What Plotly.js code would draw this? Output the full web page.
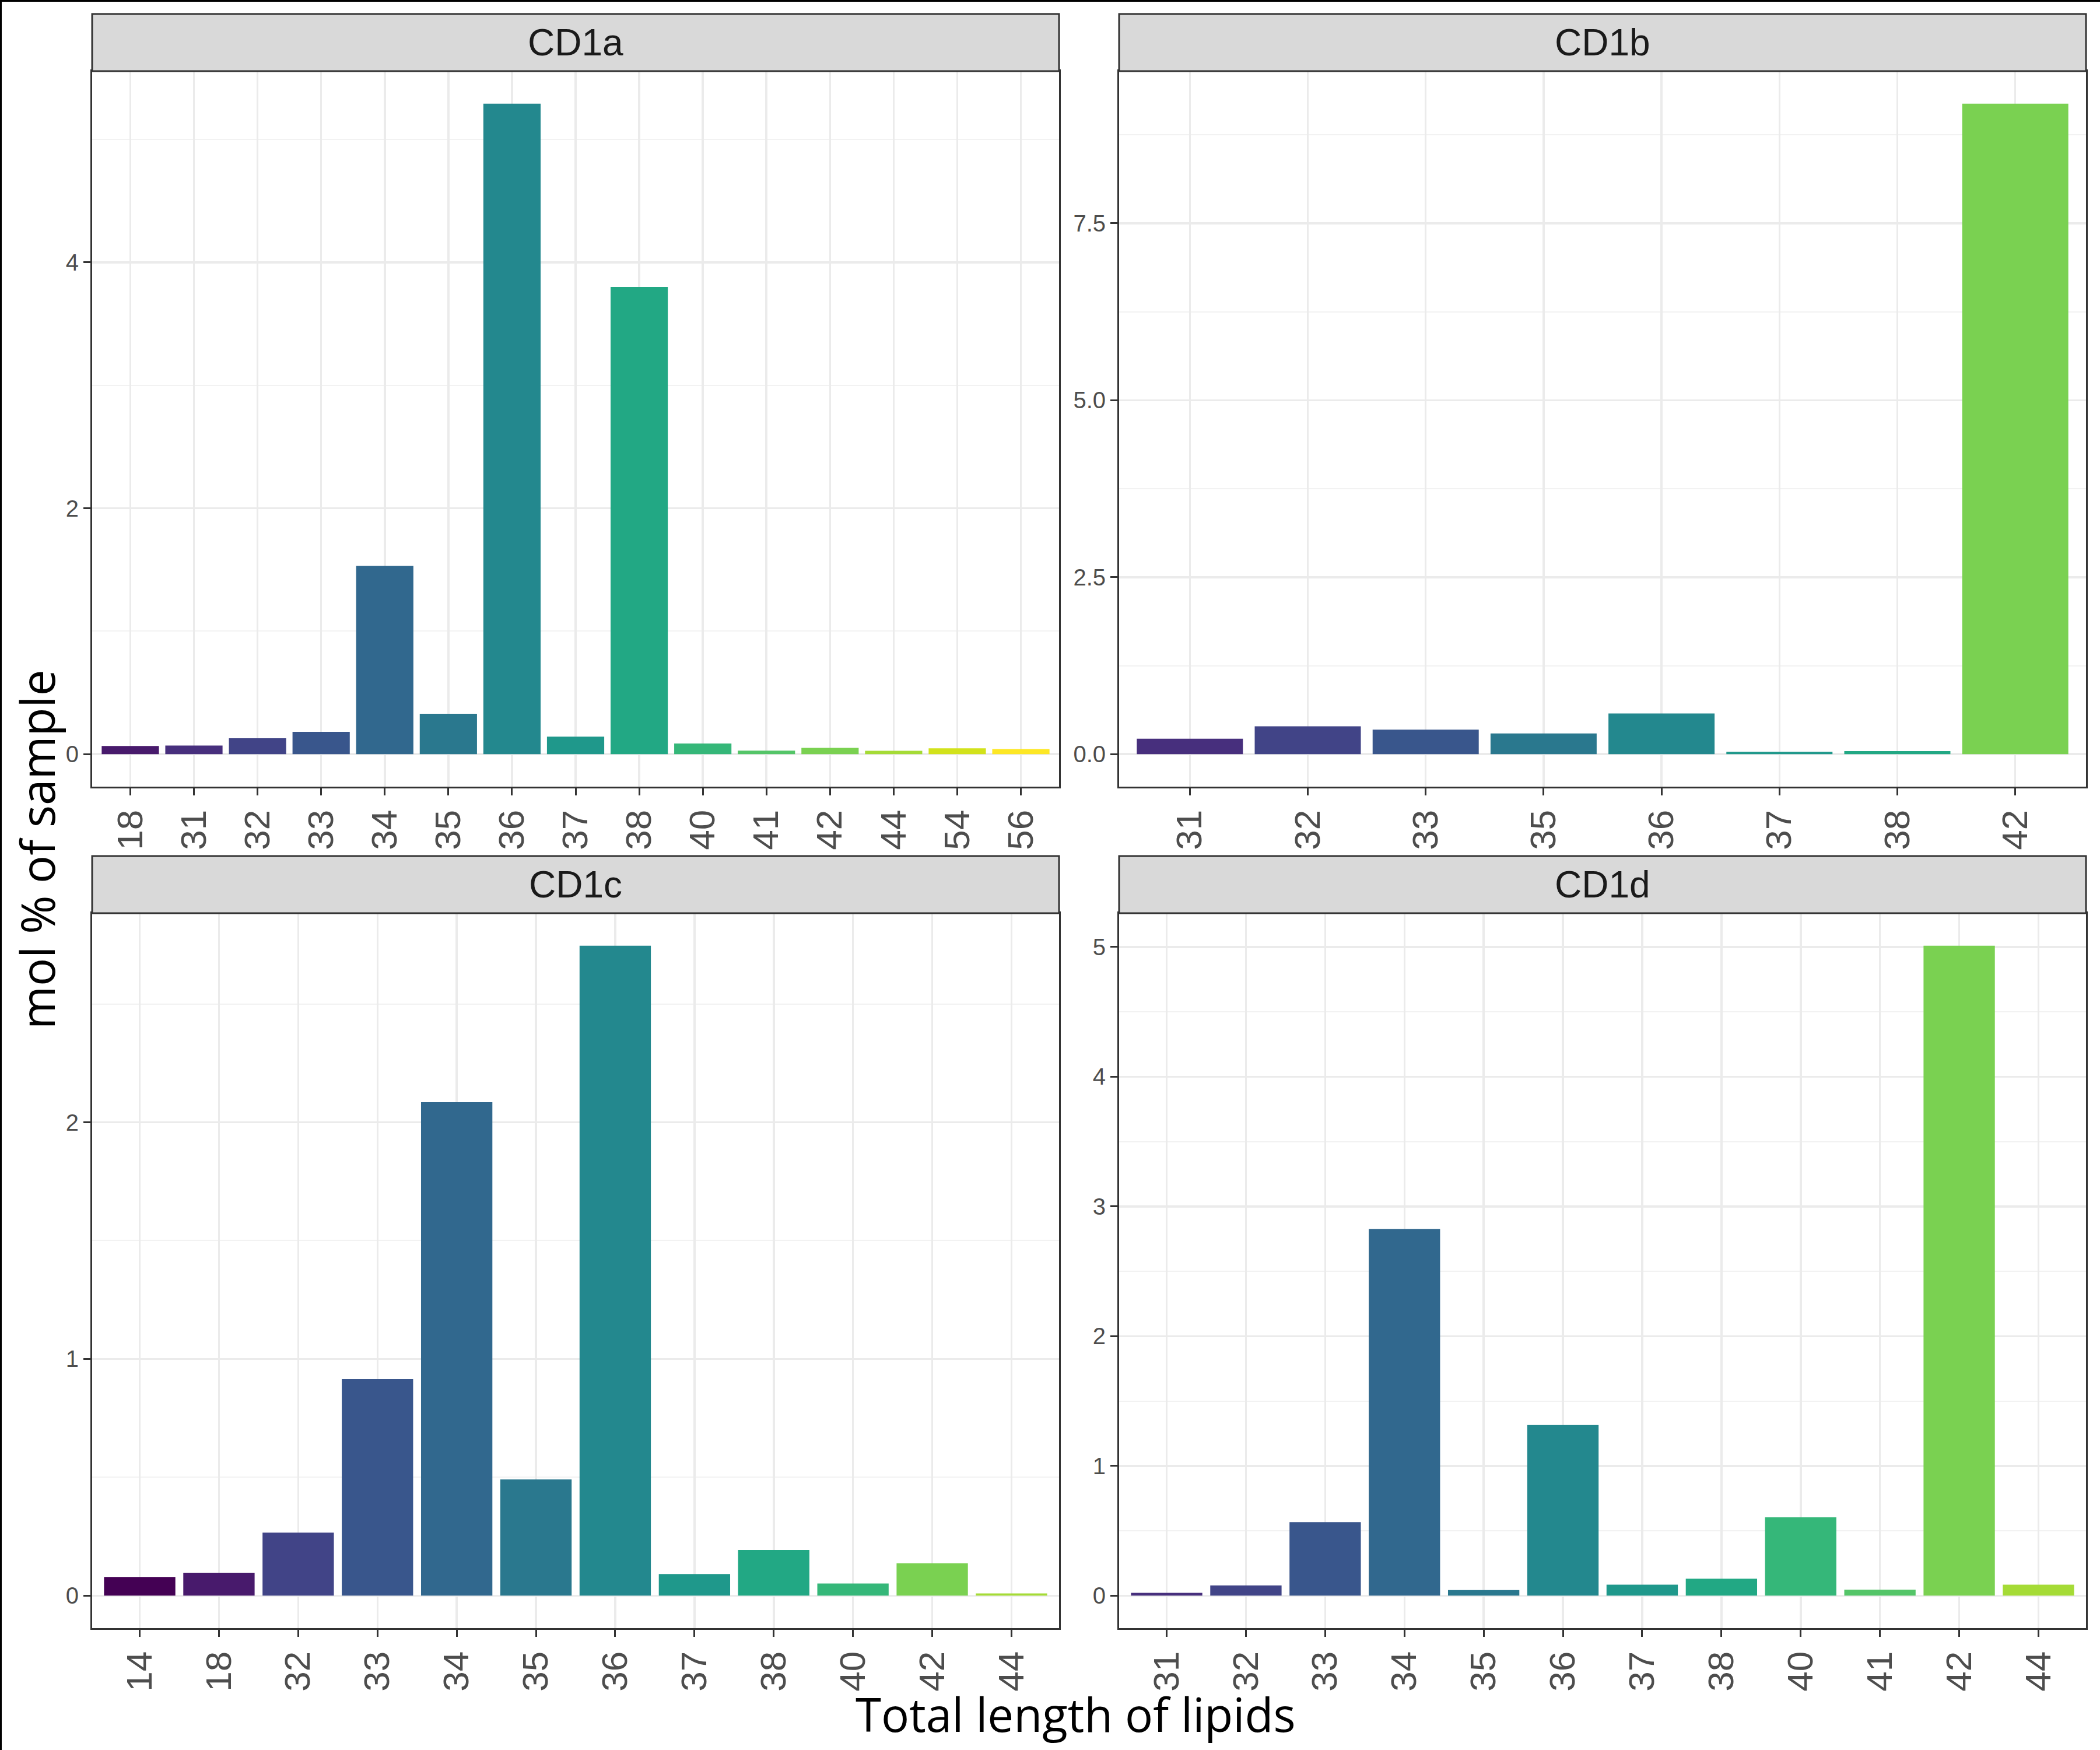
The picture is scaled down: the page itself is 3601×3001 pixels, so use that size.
<!DOCTYPE html>
<html>
<head>
<meta charset="utf-8">
<script src="https://cdn.plot.ly/plotly-3.0.1.min.js"></script>
<style>
    html, body { margin: 0; padding: 0; background: #fff; }
    #chart { width: 3601px; height: 3001px; }
</style>
</head>
<body>
<div id="chart"></div>
<script>
// Values (mol % of sample per total lipid length)
var cd1aLengths = ['18', '31', '32', '33', '34', '35', '36', '37', '38', '40', '41', '42', '44', '54', '56']
var cd1aValues = [0.066, 0.070, 0.129, 0.181, 1.53, 0.328, 5.29, 0.142, 3.80, 0.086, 0.028, 0.051, 0.027, 0.047, 0.041]

var cd1bLengths = ['31', '32', '33', '35', '36', '37', '38', '42']
var cd1bValues = [0.219, 0.394, 0.345, 0.293, 0.574, 0.033, 0.044, 9.19]

var cd1cLengths = ['14', '18', '32', '33', '34', '35', '36', '37', '38', '40', '42', '44']
var cd1cValues = [0.079, 0.097, 0.266, 0.915, 2.085, 0.491, 2.746, 0.091, 0.193, 0.051, 0.137, 0.009]

var cd1dLengths = ['31', '32', '33', '34', '35', '36', '37', '38', '40', '41', '42', '44']
var cd1dValues = [0.021, 0.079, 0.567, 2.825, 0.043, 1.315, 0.084, 0.130, 0.604, 0.046, 5.01, 0.084]

var panelNames = ['CD1a', 'CD1b', 'CD1c', 'CD1d']

// fill levels shared by all facets (viridis, one colour per level)
var allLengths = ['14', '18', '31', '32', '33', '34', '35', '36', '37', '38', '40', '41', '42', '44', '54', '56']
var viridis = [
    "#440154", "#481A6C", "#472F7D", "#414487", "#39568C", "#31688E", "#2A788E", "#23888E",
    "#1F988B", "#22A884", "#35B779", "#54C568", "#7AD151", "#A5DB36", "#D2E21B", "#FDE725",
]

var W = 3601, H = 3001

// panel boxes in pixels: [left, right, stripTop, plotTop, plotBottom]
var boxes = [
    [158, 1816, 24, 122, 1349],
    [1919, 3577, 24, 122, 1349],
    [158, 1816, 1468, 1566, 2792],
    [1919, 3577, 1468, 1566, 2792],
]

var yTicks = [
    { dtick: 2, format: '' },
    { dtick: 2.5, format: '.1f' },
    { dtick: 1, format: '' },
    { dtick: 1, format: '' },
]

function px(x) { return x / W }
function py(y) { return 1 - y / H }

var tickFont = { family: 'Liberation Sans, Arial, sans-serif', color: '#4D4D4D' }

var data = []
var layout = {
    width: W,
    height: H,
    margin: { l: 0, r: 0, t: 0, b: 0 },
    paper_bgcolor: '#ffffff',
    plot_bgcolor: '#ffffff',
    showlegend: false,
    bargap: 0.1,
    shapes: [],
    annotations: [],
}

var series = [
    [cd1aLengths, cd1aValues],
    [cd1bLengths, cd1bValues],
    [cd1cLengths, cd1cValues],
    [cd1dLengths, cd1dValues],
]

series.forEach(function (s, i) {
    var lengths = s[0], values = s[1]
    var n = i + 1
    var xa = 'xaxis' + (n == 1 ? '' : n), ya = 'yaxis' + (n == 1 ? '' : n)
    var b = boxes[i]

    data.push({
        type: 'bar',
        x: lengths,
        y: values,
        xaxis: 'x' + (n == 1 ? '' : n),
        yaxis: 'y' + (n == 1 ? '' : n),
        width: 0.9,
        marker: {
            color: lengths.map(function (l) { return viridis[allLengths.indexOf(l)] }),
            line: { width: 0 },
        },
        hoverinfo: 'skip',
    })

    // ggplot style 5% expansion around [0, max]
    var max = Math.max.apply(null, values)
    var pad = max * 0.05

    layout[xa] = {
        type: 'category',
        domain: [px(b[0]), px(b[1])],
        range: [-0.6, lengths.length - 0.4],
        anchor: 'y' + (n == 1 ? '' : n),
        tickangle: -90,
        tickfont: Object.assign({ size: 62 }, tickFont),
        ticks: 'outside',
        ticklen: 12,
        tickwidth: 3,
        tickcolor: '#333333',
        showgrid: true,
        gridcolor: '#EBEBEB',
        gridwidth: 3.5,
        showline: true,
        mirror: true,
        linecolor: '#333333',
        linewidth: 3,
        fixedrange: true,
    }

    layout[ya] = {
        domain: [py(b[4]), py(b[3])],
        range: [-pad, max + pad],
        anchor: 'x' + (n == 1 ? '' : n),
        tick0: 0,
        dtick: yTicks[i].dtick,
        tickformat: yTicks[i].format,
        tickfont: Object.assign({ size: 40 }, tickFont),
        ticks: 'outside',
        ticklen: 12,
        tickwidth: 3,
        tickcolor: '#333333',
        showgrid: true,
        gridcolor: '#EBEBEB',
        gridwidth: 3.5,
        minor: {
            dtick: yTicks[i].dtick / 2,
            showgrid: true,
            gridcolor: '#F2F2F2',
            gridwidth: 2,
        },
        zeroline: false,
        showline: true,
        mirror: true,
        linecolor: '#333333',
        linewidth: 3,
        fixedrange: true,
    }

    // facet strip
    layout.shapes.push({
        type: 'rect', xref: 'paper', yref: 'paper',
        x0: px(b[0]), x1: px(b[1]), y0: py(b[3]), y1: py(b[2]),
        fillcolor: '#D9D9D9',
        line: { color: '#333333', width: 3 },
        layer: 'above',
    })
    layout.annotations.push({
        xref: 'paper', yref: 'paper',
        x: px((b[0] + b[1]) / 2), y: py((b[2] + b[3]) / 2),
        text: panelNames[i],
        showarrow: false,
        xanchor: 'center', yanchor: 'middle',
        font: { family: 'Liberation Sans, Arial, sans-serif', size: 64, color: '#1A1A1A' },
    })
})

// shared axis titles
layout.annotations.push({
    xref: 'paper', yref: 'paper',
    x: px(1845), y: py(2938),
    text: 'Total length of lipids',
    showarrow: false,
    xanchor: 'center', yanchor: 'middle',
    font: { family: 'Open Sans, sans-serif', size: 80, color: '#000000' },
})
layout.annotations.push({
    xref: 'paper', yref: 'paper',
    x: px(62), y: py(1457),
    text: 'mol % of sample',
    textangle: -90,
    showarrow: false,
    xanchor: 'center', yanchor: 'middle',
    font: { family: 'Open Sans, sans-serif', size: 80, color: '#000000' },
})

// thin frame on the left and top edge of the figure
layout.shapes.push({
    type: 'line', xref: 'paper', yref: 'paper',
    x0: px(1.5), x1: px(1.5), y0: 0, y1: 1,
    line: { color: '#000000', width: 3 },
})
layout.shapes.push({
    type: 'line', xref: 'paper', yref: 'paper',
    x0: 0, x1: 1, y0: py(1.5), y1: py(1.5),
    line: { color: '#000000', width: 3 },
})

Plotly.newPlot('chart', data, layout, { displayModeBar: false, staticPlot: true })
</script>
</body>
</html>
